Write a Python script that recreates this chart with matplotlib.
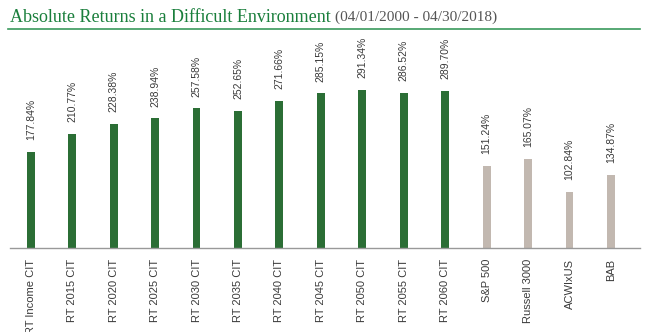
import numpy as np
import matplotlib
matplotlib.use('Agg')
import matplotlib.pyplot as plt

# chart data
categories = ['RT Income CIT', 'RT 2015 CIT', 'RT 2020 CIT', 'RT 2025 CIT', 'RT 2030 CIT',
              'RT 2035 CIT', 'RT 2040 CIT', 'RT 2045 CIT', 'RT 2050 CIT', 'RT 2055 CIT',
              'RT 2060 CIT', 'S&P 500', 'Russell 3000', 'ACWIxUS', 'BAB']
returns = [177.84, 210.77, 228.38, 238.94, 257.58, 252.65, 271.66, 285.15, 291.34,
           286.52, 289.70, 151.24, 165.07, 102.84, 134.87]
is_fund = [True] * 11 + [False] * 4

GREEN = '#2b6e35'
GRAY = '#c2b8b0'
TEXT = '#3a3a3a'

fig = plt.figure(figsize=(6.45, 3.32), dpi=100)
W, H = 645, 332
ax = fig.add_axes([10 / W, 1 - 248 / H, 630 / W, (248 - 35) / H])

x = np.arange(len(categories))
colors = [GREEN if f else GRAY for f in is_fund]
ax.bar(x, returns, width=0.19, color=colors)

for xi, v in zip(x, returns):
    ax.annotate(f'{v:.2f}%', (xi, v), xytext=(0, 8.5), textcoords='offset points',
                rotation=90, ha='center', va='bottom', fontsize=7.5,
                family='Liberation Sans', color=TEXT)

ax.set_xlim(-0.5, 14.7)
ax.set_ylim(0, 393)
ax.set_xticks(x)
ax.set_xticklabels(categories, rotation=90, fontsize=8, family='Liberation Sans',
                   color=TEXT, va='top')
ax.tick_params(axis='x', length=0, pad=8)
ax.set_yticks([])
for s in ['top', 'right', 'left']:
    ax.spines[s].set_visible(False)
ax.spines['bottom'].set_color('#999999')
ax.spines['bottom'].set_linewidth(1.0)

# title with green rule
t = fig.text(10 / W, 1 - 17 / H, 'Absolute Returns in a Difficult Environment',
             family='Liberation Serif', fontsize=13, color='#1a7f3c', va='center')
fig.canvas.draw()
bb = t.get_window_extent()
fig.text(bb.x1 / W + 4 / W, 1 - 17 / H, '(04/01/2000 - 04/30/2018)',
         family='Liberation Serif', fontsize=11, color='#555555', va='center')
fig.add_artist(plt.Line2D([8 / W, 640 / W], [1 - 29 / H, 1 - 29 / H],
                          color='#3a9a5c', linewidth=1.2, transform=fig.transFigure))

fig.savefig('out.png', dpi=100)
